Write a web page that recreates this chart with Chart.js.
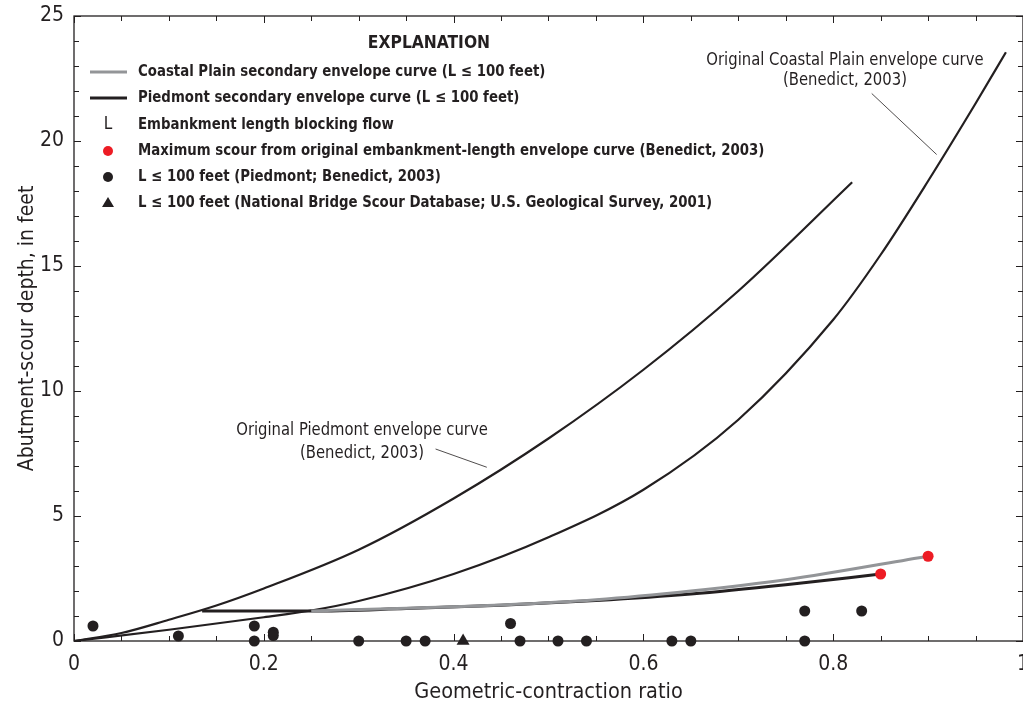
<!DOCTYPE html>
<html>
<head>
<meta charset="utf-8">
<script src="https://cdn.jsdelivr.net/npm/chart.js@4.4.1/dist/chart.umd.min.js"></script>
<style>
  html, body { margin: 0; padding: 0; background: #fff; overflow: hidden; }
  #wrap { width: 1032px; height: 706px; position: relative; }
</style>
</head>
<body>
<div id="wrap"><canvas id="chart"></canvas></div>
<script>
// original envelope curves (Benedict, 2003)
const piedmontX = [0, 0.05, 0.1, 0.15, 0.2, 0.3, 0.4, 0.5, 0.6, 0.7, 0.82];
const piedmontY = [0, 0.32, 0.85, 1.42, 2.1, 3.65, 5.7, 8.1, 10.85, 14.0, 18.35];
const coastalX = [0, 0.1, 0.2, 0.25, 0.3, 0.4, 0.5, 0.6, 0.7, 0.8, 0.85, 0.9, 0.95, 0.982];
const coastalY = [0, 0.45, 0.95, 1.22, 1.6, 2.68, 4.15, 6.05, 8.85, 12.85, 15.45, 18.4, 21.5, 23.55];

// secondary envelope curves (L <= 100 feet)
const piedSecX = [0.135, 0.25, 0.35, 0.45, 0.55, 0.65, 0.75, 0.85];
const piedSecY = [1.2, 1.2, 1.3, 1.43, 1.62, 1.88, 2.25, 2.68];
const coastSecX = [0.25, 0.35, 0.45, 0.55, 0.65, 0.75, 0.9];
const coastSecY = [1.2, 1.31, 1.44, 1.65, 2.0, 2.45, 3.39];

// observed points
const maxScourX = [0.85, 0.90];
const maxScourY = [2.68, 3.39];
const piedObsX = [0.02, 0.11, 0.19, 0.19, 0.21, 0.21, 0.30, 0.35, 0.37, 0.46, 0.47, 0.51, 0.54, 0.63, 0.65, 0.77, 0.77, 0.83];
const piedObsY = [0.6, 0.2, 0.6, 0, 0.35, 0.22, 0, 0, 0, 0.7, 0, 0, 0, 0, 0, 0, 1.2, 1.2];
const nbsX = [0.41];
const nbsY = [0];

const xTicks = [0, 0.2, 0.4, 0.6, 0.8, 1];
const yTicks = [0, 5, 10, 15, 20, 25];

const legendLabels = [
    'Coastal Plain secondary envelope curve (L \u2264 100 feet)',
    'Piedmont secondary envelope curve (L \u2264 100 feet)',
    'Embankment length blocking flow',
    'Maximum scour from original embankment-length envelope curve (Benedict, 2003)',
    'L \u2264 100 feet (Piedmont; Benedict, 2003)',
    'L \u2264 100 feet (National Bridge Scour Database; U.S. Geological Survey, 2001)'
];

// callout text: lines, centre x, line y values, leader from / to
const notes = [
    { lines: ['Original Piedmont envelope curve', '(Benedict, 2003)'], x: 0.3035, y: [8.44, 7.53],
      from: [0.381, 7.68], to: [0.435, 6.95] },
    { lines: ['Original Coastal Plain envelope curve', '(Benedict, 2003)'], x: 0.8124, y: [23.24, 22.44],
      from: [0.8406, 21.9], to: [0.909, 19.46] }
];

const INK = '#231f20';
const GRAY = '#939598';
const RED = '#ed1c24';
const FONT = '"DejaVu Sans Condensed", "DejaVu Sans", sans-serif';

function pts(xs, ys) {
    return xs.map((x, i) => ({ x: x, y: ys[i] }));
}

function curve(label, xs, ys, color, width, order) {
    return {
        label: label,
        data: pts(xs, ys),
        showLine: true,
        borderColor: color,
        borderWidth: width,
        pointRadius: 0,
        cubicInterpolationMode: 'monotone',
        fill: false,
        order: order
    };
}

// squeeze text horizontally to get closer to the condensed face of the original
function narrowText(ctx, text, x, y, sx) {
    ctx.save();
    ctx.translate(x, y);
    ctx.scale(sx, 1);
    ctx.fillText(text, 0, 0);
    ctx.restore();
}

const decor = {
    id: 'decor',
    beforeDatasetsDraw(chart) {
        const { ctx, chartArea: a, scales: { x, y } } = chart;
        ctx.save();
        ctx.strokeStyle = INK;
        ctx.lineWidth = 1.3;
        ctx.strokeRect(a.left, a.top, a.right - a.left, a.bottom - a.top);
        ctx.lineWidth = 1;
        ctx.beginPath();
        for (let i = 0; i <= 20; i++) {
            const px = Math.round(x.getPixelForValue(i * 0.05)) + 0.5;
            const len = i % 4 === 0 ? 7 : 5;
            ctx.moveTo(px, a.bottom); ctx.lineTo(px, a.bottom - len);
            ctx.moveTo(px, a.top); ctx.lineTo(px, a.top + len);
        }
        for (let v = 0; v <= 25; v++) {
            const py = Math.round(y.getPixelForValue(v)) + 0.5;
            const len = v % 5 === 0 ? 7 : 5;
            ctx.moveTo(a.left, py); ctx.lineTo(a.left + len, py);
            ctx.moveTo(a.right, py); ctx.lineTo(a.right - len, py);
        }
        ctx.stroke();
        ctx.restore();
    },
    afterDraw(chart) {
        const { ctx, chartArea: a, scales: { x, y } } = chart;
        ctx.save();
        ctx.fillStyle = INK;
        ctx.strokeStyle = INK;

        // callouts
        ctx.font = '18.5px ' + FONT;
        ctx.textAlign = 'center';
        ctx.textBaseline = 'middle';
        notes.forEach(n => {
            n.lines.forEach((t, i) => {
                narrowText(ctx, t, x.getPixelForValue(n.x), y.getPixelForValue(n.y[i]), 0.89);
            });
            ctx.lineWidth = 0.8;
            ctx.beginPath();
            ctx.moveTo(x.getPixelForValue(n.from[0]), y.getPixelForValue(n.from[1]));
            ctx.lineTo(x.getPixelForValue(n.to[0]), y.getPixelForValue(n.to[1]));
            ctx.stroke();
        });

        // explanation
        const sx = a.left + 34;
        const tx = a.left + 64;
        const rows = [72, 98, 125, 151, 177, 203];
        ctx.font = 'bold 18px ' + FONT;
        narrowText(ctx, 'EXPLANATION', a.left + 355, 43, 0.96);
        ctx.textAlign = 'left';
        ctx.font = 'bold 16px ' + FONT;
        legendLabels.forEach((t, i) => narrowText(ctx, t, tx, rows[i], 0.925));

        ctx.lineWidth = 3;
        ctx.strokeStyle = GRAY;
        ctx.beginPath(); ctx.moveTo(sx - 18, rows[0]); ctx.lineTo(sx + 19, rows[0]); ctx.stroke();
        ctx.strokeStyle = INK;
        ctx.beginPath(); ctx.moveTo(sx - 18, rows[1]); ctx.lineTo(sx + 19, rows[1]); ctx.stroke();
        ctx.font = '17px ' + FONT;
        ctx.textAlign = 'center';
        ctx.fillText('L', sx, rows[2]);
        ctx.fillStyle = RED;
        ctx.beginPath(); ctx.arc(sx, rows[3], 5, 0, Math.PI * 2); ctx.fill();
        ctx.fillStyle = INK;
        ctx.beginPath(); ctx.arc(sx, rows[4], 5, 0, Math.PI * 2); ctx.fill();
        ctx.beginPath();
        ctx.moveTo(sx, rows[5] - 6); ctx.lineTo(sx + 6, rows[5] + 4); ctx.lineTo(sx - 6, rows[5] + 4);
        ctx.closePath(); ctx.fill();
        ctx.restore();
    }
};

const ctx = document.getElementById('chart');
new Chart(ctx, {
    type: 'scatter',
    data: {
        datasets: [
            {
                label: legendLabels[3],
                data: pts(maxScourX, maxScourY),
                backgroundColor: RED, borderWidth: 0, pointRadius: 5.5, clip: false, order: 0
            },
            {
                label: legendLabels[4],
                data: pts(piedObsX, piedObsY),
                backgroundColor: INK, borderWidth: 0, pointRadius: 5.5, clip: false, order: 0
            },
            {
                label: legendLabels[5],
                data: pts(nbsX, nbsY),
                pointStyle: 'triangle',
                backgroundColor: INK, borderWidth: 0, pointRadius: 7.5, clip: false, order: 0
            },
            curve(legendLabels[0], coastSecX, coastSecY, GRAY, 3, 1),
            curve(legendLabels[1], piedSecX, piedSecY, INK, 3, 2),
            curve('Original Piedmont envelope curve', piedmontX, piedmontY, INK, 2.2, 3),
            curve('Original Coastal Plain envelope curve', coastalX, coastalY, INK, 2.2, 3)
        ]
    },
    options: {
        responsive: true,
        maintainAspectRatio: false,
        animation: false,
        events: [],
        layout: { padding: { top: 16, right: 0, left: 0, bottom: 0 } },
        plugins: {
            legend: { display: false },
            tooltip: { enabled: false }
        },
        scales: {
            x: {
                type: 'linear',
                min: 0,
                max: 1,
                afterBuildTicks: s => { s.ticks = xTicks.map(v => ({ value: v })); },
                afterFit: s => { s.height = 65; },
                grid: { display: false },
                border: { display: false },
                ticks: {
                    autoSkip: false,
                    maxRotation: 0,
                    padding: 3,
                    color: INK,
                    font: { family: FONT, size: 21 },
                    callback: v => String(Math.round(v * 10) / 10)
                },
                title: {
                    display: true,
                    text: 'Geometric-contraction ratio',
                    color: INK,
                    font: { family: FONT, size: 21.5 },
                    padding: { top: 0, bottom: 1 }
                }
            },
            y: {
                type: 'linear',
                min: 0,
                max: 25,
                afterBuildTicks: s => { s.ticks = yTicks.map(v => ({ value: v })); },
                afterFit: s => { s.width = 74; },
                grid: { display: false },
                border: { display: false },
                ticks: {
                    padding: 2,
                    color: INK,
                    font: { family: FONT, size: 21 }
                },
                title: {
                    display: true,
                    text: 'Abutment-scour depth, in feet',
                    color: INK,
                    font: { family: FONT, size: 21 },
                    padding: { top: 15, bottom: 0 }
                }
            }
        }
    },
    plugins: [decor]
});
</script>
</body>
</html>
